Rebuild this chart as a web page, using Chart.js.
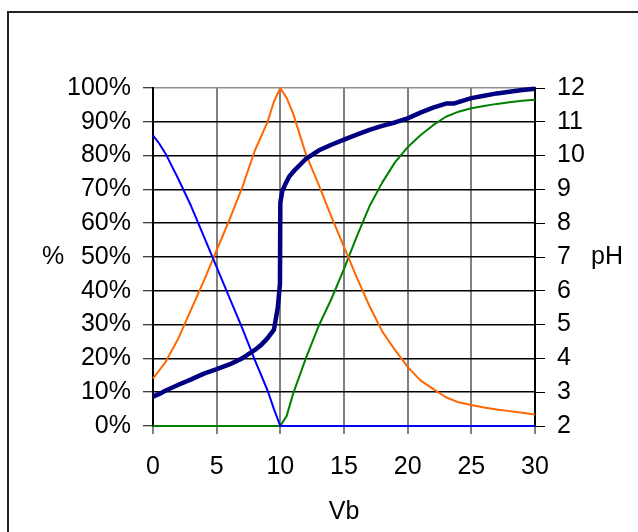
<!DOCTYPE html>
<html>
<head>
<meta charset="utf-8">
<script src="https://cdn.jsdelivr.net/npm/chart.js@4/dist/chart.umd.min.js"></script>
<style>
  html, body { margin: 0; padding: 0; background: #fff; overflow: hidden; }
  #chart { display: block; }
</style>
</head>
<body>
<canvas id="chart" width="638" height="532"></canvas>
<script>
// Values
const phVb = [0, 0.5, 1, 2, 3, 4, 5, 6, 7, 8, 8.5, 9, 9.5, 9.8, 9.97, 10, 10.15, 10.35, 10.7, 11.15, 12, 13, 14, 15, 16, 17, 18, 19, 20, 21, 22, 23, 23.6, 25, 26, 27, 28, 29, 30];
const phValues = [2.87, 2.95, 3.05, 3.22, 3.38, 3.55, 3.68, 3.82, 4.0, 4.25, 4.4, 4.6, 4.85, 5.5, 6.2, 8.6, 8.95, 9.12, 9.38, 9.58, 9.9, 10.15, 10.32, 10.47, 10.62, 10.76, 10.88, 10.98, 11.1, 11.27, 11.42, 11.54, 11.54, 11.7, 11.77, 11.84, 11.89, 11.94, 11.98];

const blueVb = [0, 0.5, 1, 2, 3, 4, 5, 6, 7, 8, 9, 9.5, 10, 15, 20, 25, 30];
const bluePct = [86, 83.5, 80.5, 73, 65, 56, 47, 38, 29, 19.5, 10.5, 5, 0, 0, 0, 0, 0];

const orangeVb = [0, 0.5, 1, 2, 3, 4, 5, 6, 7, 8, 9, 9.5, 10, 10.5, 11, 12, 13, 14, 15, 16, 17, 18, 19, 20, 21, 22, 23, 24, 25, 26, 27, 28, 29, 30];
const orangePct = [14, 16.5, 19, 26, 34.5, 43, 52, 61, 70.5, 81.5, 90, 96, 100, 97, 92.5, 80.5, 71.5, 62, 53, 44, 35.5, 28, 22.5, 17.5, 13.5, 11, 8.5, 7, 6.2, 5.5, 4.9, 4.4, 3.9, 3.4];

const greenVb = [0, 5, 10, 10.5, 11, 12, 13, 14, 15, 16, 17, 18, 19, 20, 21, 22, 23, 24, 25, 26, 27, 28, 29, 30];
const greenPct = [0, 0, 0, 3, 9.5, 20, 29.5, 37.5, 46.5, 56, 65, 72, 78, 82.5, 86, 89, 91.5, 93, 94, 94.7, 95.3, 95.8, 96.2, 96.5];

// Axis text
const xTitle = 'Vb';
const leftTitle = '%';
const rightTitle = 'pH';

const FONT = '"Liberation Sans", Arial, sans-serif';
const FONT_SIZE = 25;

const toPoints = (xs, ys) => xs.map((x, i) => ({ x: x, y: ys[i] }));

// Frame and axis titles
const decorations = {
    id: 'decorations',
    beforeDraw: (chart) => {
        const { ctx } = chart;
        ctx.save();
        ctx.strokeStyle = '#222';
        ctx.lineWidth = 2;
        ctx.strokeRect(8, 12, 700, 600);
        ctx.restore();
    },
    afterDraw: (chart) => {
        const { ctx, chartArea } = chart;
        const midY = (chartArea.top + chartArea.bottom) / 2;
        ctx.save();
        ctx.fillStyle = '#000';
        ctx.font = FONT_SIZE + 'px ' + FONT;
        ctx.textAlign = 'center';
        ctx.textBaseline = 'middle';
        ctx.fillText(leftTitle, 53, midY);
        ctx.fillText(rightTitle, 607, midY);
        ctx.fillText(xTitle, (chartArea.left + chartArea.right) / 2, 512);
        ctx.restore();
    }
};

new Chart(document.getElementById('chart'), {
    type: 'line',
    data: {
        datasets: [
            {
                label: 'pH',
                data: toPoints(phVb, phValues),
                yAxisID: 'y2',
                borderColor: '#000080',
                borderWidth: 4.5,
                order: 0
            },
            {
                label: 'HA',
                data: toPoints(blueVb, bluePct),
                yAxisID: 'y',
                borderColor: '#0000ff',
                borderWidth: 2,
                order: 1
            },
            {
                label: 'A-',
                data: toPoints(orangeVb, orangePct),
                yAxisID: 'y',
                borderColor: '#ff6600',
                borderWidth: 2,
                order: 2
            },
            {
                label: 'OH-',
                data: toPoints(greenVb, greenPct),
                yAxisID: 'y',
                borderColor: '#008000',
                borderWidth: 2,
                order: 3
            }
        ]
    },
    options: {
        responsive: false,
        animation: false,
        devicePixelRatio: 1,
        clip: false,
        layout: { padding: { top: 88, left: 0, right: 0, bottom: 0 } },
        elements: {
            point: { radius: 0 },
            line: { tension: 0, fill: false, borderJoinStyle: 'round' }
        },
        plugins: {
            legend: { display: false },
            tooltip: { enabled: false }
        },
        scales: {
            x: {
                type: 'linear',
                position: 'bottom',
                min: 0,
                max: 30,
                afterFit: (s) => { s.height = 106; },
                ticks: { stepSize: 5, color: '#000', padding: 18, font: { family: FONT, size: FONT_SIZE } },
                grid: { color: '#808080', lineWidth: 2, tickLength: 8, tickColor: '#000', tickWidth: 1 },
                border: { color: '#000', width: 1.5 }
            },
            y: {
                type: 'linear',
                position: 'left',
                min: 0,
                max: 100,
                afterFit: (s) => { s.width = 153; },
                ticks: {
                    stepSize: 10,
                    color: '#000',
                    padding: 12,
                    font: { family: FONT, size: FONT_SIZE },
                    callback: (v) => v + '%'
                },
                grid: {
                    color: (c) => (c.tick && c.tick.value === 100 ? '#909090' : '#000'),
                    lineWidth: 1.5,
                    tickLength: 10,
                    tickColor: '#000',
                    tickWidth: 1
                },
                border: { color: '#000', width: 2 }
            },
            y2: {
                type: 'linear',
                position: 'right',
                min: 2,
                max: 12,
                afterFit: (s) => { s.width = 103; },
                ticks: { stepSize: 1, color: '#000', padding: 12, font: { family: FONT, size: FONT_SIZE } },
                grid: { drawOnChartArea: false, tickLength: 10, tickColor: '#000', tickWidth: 1 },
                border: { color: '#000', width: 2 }
            }
        }
    },
    plugins: [decorations]
});
</script>
</body>
</html>
